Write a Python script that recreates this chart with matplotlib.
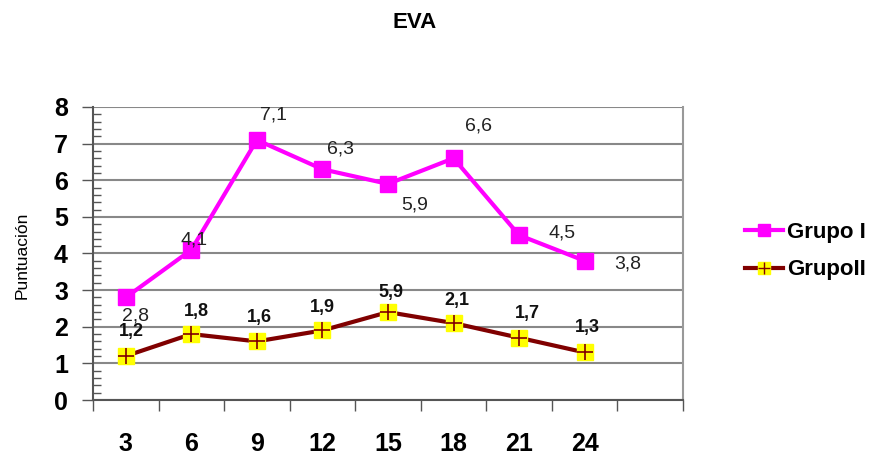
import numpy as np
import matplotlib.pyplot as plt
from matplotlib.lines import Line2D

plt.rcParams['font.family'] = ['Liberation Sans', 'DejaVu Sans']

# data
meses = ['3', '6', '9', '12', '15', '18', '21', '24']
grupo1 = [2.8, 4.1, 7.1, 6.3, 5.9, 6.6, 4.5, 3.8]
grupo2 = [1.2, 1.8, 1.6, 1.9, 2.4, 2.1, 1.7, 1.3]
etiq1 = ['2,8', '4,1', '7,1', '6,3', '5,9', '6,6', '4,5', '3,8']
etiq2 = ['1,2', '1,8', '1,6', '1,9', '5,9', '2,1', '1,7', '1,3']

# label offsets in pixels (dx, dy)
off1 = [(10, -19), (3, 10), (17, 25), (18, 20), (27, -21), (25, 32), (43, 2), (43, -3)]
off2 = [(6, 25), (5, 23), (2, 24), (0, 23), (3, 20), (3, 23), (8, 24), (3, 25)]

colorG1 = '#ff00ff'
colorG2 = '#800000'
colorMark2 = '#ffff00'

fig = plt.figure(figsize=(8.89, 4.59), dpi=100)
ax = fig.add_axes([93/889, 59/459, 590/889, 293/459])

x = np.arange(len(meses)) + 0.5

ax.plot(x, grupo1, color=colorG1, lw=3, marker='s', ms=11, mfc=colorG1, mec=colorG1, zorder=4)
ax.plot(x, grupo2, color=colorG2, lw=3, zorder=4)
ax.plot(x, grupo2, ls='none', marker='s', ms=11, mfc=colorMark2, mec=colorMark2, zorder=5)
ax.plot(x, grupo2, ls='none', marker='+', ms=11, mew=1.2, color=colorG2, zorder=6)

for xi, yi, t, (dx, dy) in zip(x, grupo1, etiq1, off1):
    ax.annotate(t, (xi, yi), xytext=(dx, dy), textcoords='offset pixels',
                ha='center', va='center', fontsize=14, color='#222222', zorder=7)
for xi, yi, t, (dx, dy) in zip(x, grupo2, etiq2, off2):
    ax.annotate(t, (xi, yi), xytext=(dx, dy), textcoords='offset pixels',
                ha='center', va='center', fontsize=13, fontweight='bold', color='#111111', zorder=7)

ax.set_xlim(0, 9)
ax.set_ylim(0, 8)

ax.set_yticks(np.arange(0, 9))
ax.set_yticks(np.arange(0, 8.01, 0.2), minor=True)
ax.tick_params(axis='y', which='major', direction='out', length=8, width=1, pad=10,
               labelsize=18, color='#555555')
ax.tick_params(axis='y', which='minor', direction='in', length=6, width=1, color='#555555')
for lab in ax.get_yticklabels():
    lab.set_fontweight('bold')

ax.set_xticks(np.arange(0, 10))
ax.set_xticklabels([])
ax.set_xticks(x, minor=True)
ax.set_xticklabels(meses, minor=True, fontsize=18, fontweight='bold')
ax.tick_params(axis='x', which='minor', length=0, pad=23)
ax.tick_params(axis='x', which='major', direction='out', length=8, width=1, color='#555555')

ax.yaxis.grid(True, which='major', color='#888888', lw=1.5)
ax.set_axisbelow(True)
for s in ['left', 'bottom']:
    ax.spines[s].set_color('#555555')
    ax.spines[s].set_linewidth(1.5)
ax.spines['right'].set_color('#999999')
ax.spines['right'].set_linewidth(1.5)
ax.spines['top'].set_visible(False)

fig.text(415/889, 1 - 22/459, 'EVA', ha='center', va='center', fontsize=16, fontweight='bold')
fig.text(22/889, 1 - 255/459, 'Puntuación', rotation=90, ha='center', va='center', fontsize=12.5)

h1 = Line2D([], [], color=colorG1, lw=3, marker='s', ms=9, mfc=colorG1, mec=colorG1)
h2a = Line2D([], [], color=colorG2, lw=3, marker='s', ms=9, mfc=colorMark2, mec=colorMark2)
h2b = Line2D([], [], ls='none', marker='+', ms=9, color=colorG2)
fig.legend([h1, (h2a, h2b)], ['Grupo I', 'GrupoII'], loc='center left',
           bbox_to_anchor=(725/889, 1 - 251/459), frameon=False, handlelength=1.7,
           handletextpad=0.2, labelspacing=0.75, prop={'size': 16, 'weight': 'bold'})

fig.savefig('out.png', dpi=100)
